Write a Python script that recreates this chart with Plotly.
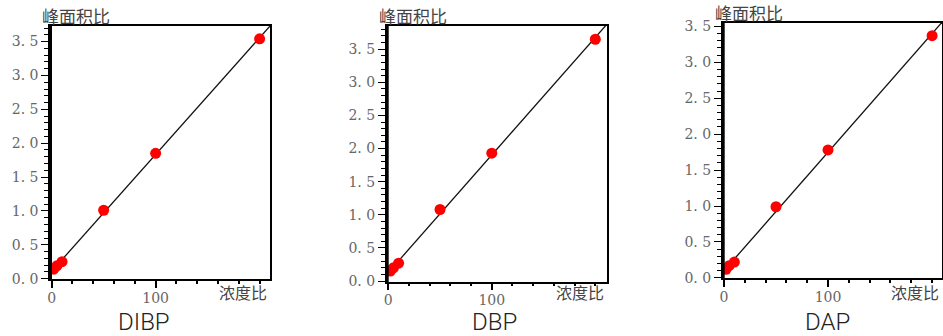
import numpy as np
import plotly.graph_objects as go

# ---- data ----
names = ["DIBP", "DBP", "DAP"]
conc_ratio = [2, 5, 10, 50, 100, 200]
dibp_area = [0.14, 0.19, 0.25, 1.01, 1.85, 3.54]
dbp_area = [0.15, 0.20, 0.27, 1.08, 1.93, 3.65]
dap_area = [0.12, 0.17, 0.22, 0.99, 1.78, 3.37]
series = [dibp_area, dbp_area, dap_area]
ytick_vals = [0, 0.5, 1.0, 1.5, 2.0, 2.5, 3.0, 3.5]
ytick_text = ["0. 0", "0. 5", "1. 0", "1. 5", "2. 0", "2. 5", "3. 0", "3. 5"]
xtick_vals = [0, 100]
xtick_text = ["0", "100"]
y_title = "峰面积比"
x_title = "浓度比"

W, H = 943, 336
# panel geometry in page pixels: left, right, top, bottom
boxes = [(50, 270, 26, 279), (386.7, 606.7, 26, 281.7), (722.7, 942, 22.7, 278.3)]
title_cx = [144, 494, 827]
xranges = [[-1.6, 210], [-1.5, 211], [-1.2, 209.5]]
yranges = [[-0.005, 3.73], [-0.01, 3.85], [-0.005, 3.55]]


def px(v):
    return v / W


def py(v):
    return 1 - v / H


fig = go.Figure()
tickfont = dict(family="DejaVu Serif", size=14, color="#666666")
cjk = "Noto Sans CJK SC"

for i, (name, ys) in enumerate(zip(names, series)):
    L, R, T, B = boxes[i]
    xa = "xaxis" if i == 0 else f"xaxis{i+1}"
    ya = "yaxis" if i == 0 else f"yaxis{i+1}"
    xr = "x" if i == 0 else f"x{i+1}"
    yr = "y" if i == 0 else f"y{i+1}"
    slope, icpt = np.polyfit(conc_ratio, ys, 1)
    lx = np.array(xranges[i])
    fig.add_trace(go.Scatter(x=lx, y=slope * lx + icpt, mode="lines",
                             line=dict(color="#111111", width=1.3),
                             xaxis=xr, yaxis=yr, showlegend=False, hoverinfo="skip"))
    fig.add_trace(go.Scatter(x=conc_ratio, y=ys, mode="markers",
                             marker=dict(color="#ff0000", size=11, line=dict(width=0)),
                             xaxis=xr, yaxis=yr, showlegend=False))
    fig.layout[xa] = dict(domain=[px(L), min(px(R), 1)], range=xranges[i], anchor=yr,
                          automargin=False,
                          showgrid=False, zeroline=False, showline=True, linecolor="black",
                          linewidth=1.5, mirror=True, tickmode="array",
                          tickvals=xtick_vals, ticktext=xtick_text, ticks="outside",
                          ticklen=7, tickcolor="black", tickwidth=1.5, tickfont=tickfont,
                          ticklabelstandoff=-2,
                          minor=dict(dtick=20, tick0=0, ticks="outside", ticklen=3,
                                     tickwidth=1.5, tickcolor="black"))
    fig.layout[ya] = dict(domain=[py(B), py(T)], range=yranges[i], anchor=xr,
                          automargin=False,
                          showgrid=False, zeroline=False, showline=True, linecolor="black",
                          linewidth=1.5, mirror=True, tickmode="array",
                          tickvals=ytick_vals, ticktext=ytick_text, ticks="outside",
                          ticklen=7, tickcolor="black", tickfont=tickfont,
                          minor=dict(dtick=0.1, tick0=0, ticks="outside", ticklen=4,
                                     tickcolor="black"))
    # thick left axis
    fig.add_shape(type="line", xref="paper", yref="paper",
                  x0=px(L + 0.5), x1=px(L + 0.5), y0=py(B + 1), y1=py(T - 1),
                  line=dict(color="black", width=3))
    fig.add_annotation(text=y_title, xref="paper", yref="paper", x=px(L - 10),
                       y=py(T), xanchor="left", yanchor="bottom", showarrow=False,
                       font=dict(family=cjk, size=17, color="#444444"), yshift=-4)
    fig.add_annotation(text=x_title, xref="paper", yref="paper", x=px(R - 1),
                       y=py(292), xanchor="right", yanchor="middle", showarrow=False,
                       font=dict(family=cjk, size=16, color="#444444"))
    fig.add_annotation(text=name, xref="paper", yref="paper", x=px(title_cx[i]),
                       y=py(321.5), xanchor="center", yanchor="middle", showarrow=False,
                       font=dict(family="Roboto", size=24, color="#222222", weight=300))

fig.update_layout(width=W, height=H, margin=dict(l=0, r=0, t=0, b=0),
                  plot_bgcolor="white", paper_bgcolor="white")
fig.write_html("out.html", config={"displayModeBar": False},
               post_script="document.body.style.margin='0px';")
